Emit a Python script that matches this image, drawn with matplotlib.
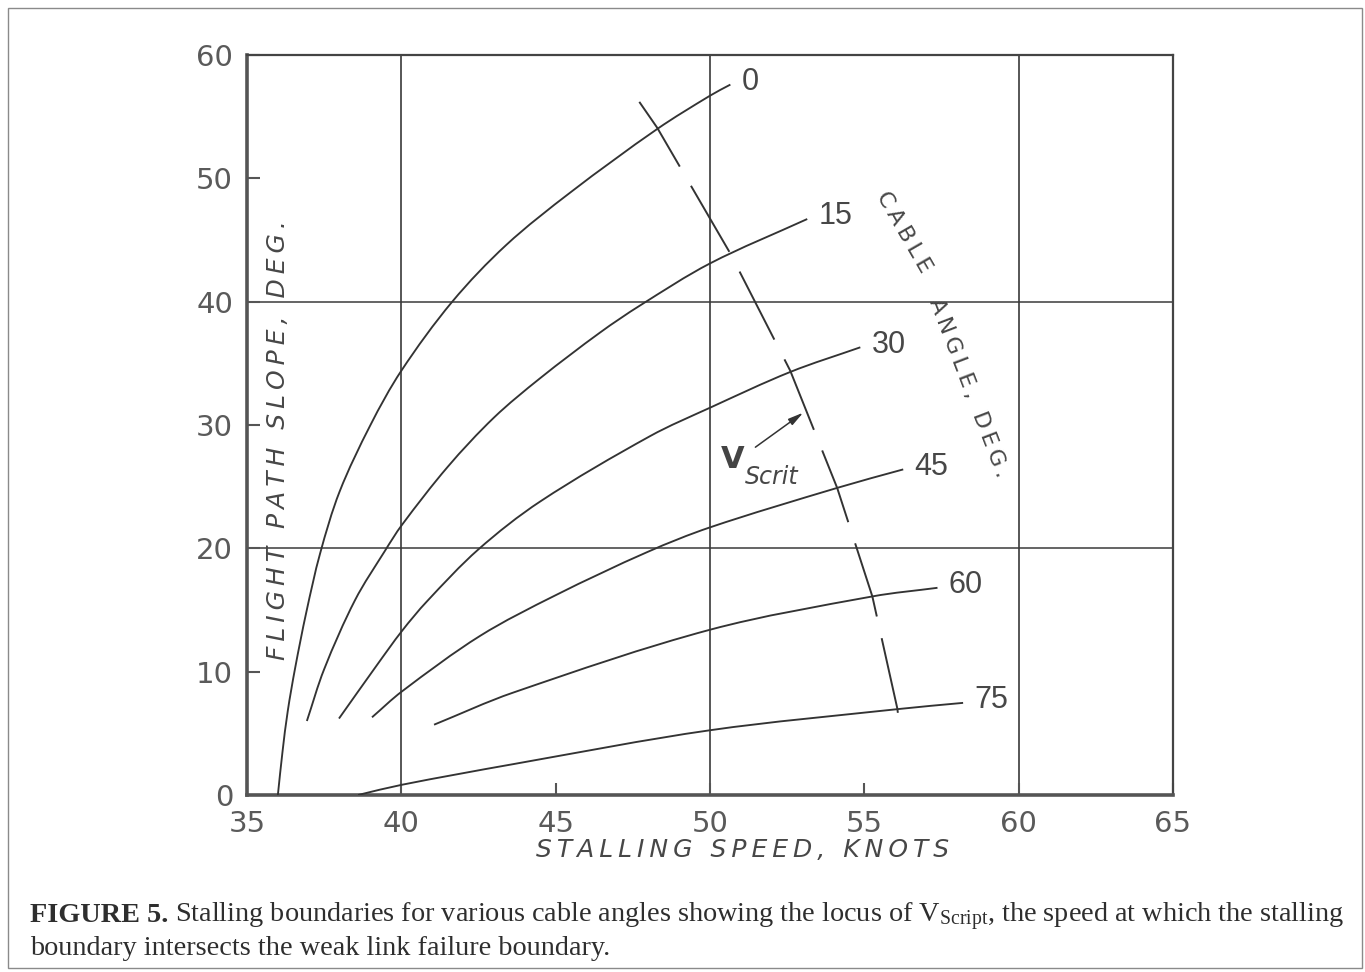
import matplotlib
matplotlib.use("Agg")
import numpy as np
import matplotlib.pyplot as plt
from matplotlib.patches import Rectangle, PathPatch
from matplotlib.path import Path

plt.rcParams['lines.scale_dashes'] = False
plt.rcParams['font.family'] = ['DejaVu Sans']
plt.rcParams['mathtext.fontset'] = 'custom'
plt.rcParams['mathtext.rm'] = 'Liberation Serif'
plt.rcParams['mathtext.bf'] = 'Liberation Serif:bold'
plt.rcParams['mathtext.it'] = 'Liberation Serif:italic'

# ---------------- data ----------------
cable_angles = [0, 15, 30, 45, 60, 75]

speed_0 = [36.0, 36.15, 36.32, 36.56, 36.92, 37.37, 38.0, 39.0, 40.0, 41.65, 43.4, 45.5, 48.29, 50.0, 50.66]
slope_0 = [0.0, 3.5, 6.8, 10.3, 14.8, 19.6, 24.6, 30.0, 34.4, 40.0, 44.6, 48.9, 54.0, 56.7, 57.6]

speed_15 = [36.94, 37.5, 38.5, 39.47, 40.02, 41.5, 43.0, 44.5, 46.44, 47.74, 50.0, 53.15]
slope_15 = [6.0, 10.2, 15.8, 19.8, 21.9, 26.6, 30.6, 33.8, 37.5, 39.7, 43.1, 46.7]

speed_30 = [37.98, 39.2, 40.02, 40.83, 42.49, 44.5, 48.06, 50.0, 52.6, 54.87]
slope_30 = [6.2, 10.5, 13.3, 15.7, 19.9, 23.8, 29.1, 31.4, 34.3, 36.3]

speed_45 = [39.05, 40.02, 42.55, 45.0, 47.97, 50.0, 54.12, 56.26]
slope_45 = [6.3, 8.4, 12.9, 16.2, 19.7, 21.7, 24.9, 26.4]

speed_60 = [41.06, 43.62, 50.0, 55.26, 57.37]
slope_60 = [5.7, 8.3, 13.4, 16.1, 16.8]

speed_75 = [38.6, 40.02, 43.62, 50.0, 56.07, 58.2]
slope_75 = [0.0, 0.83, 2.5, 5.25, 6.96, 7.47]

# locus of V_Scrit (weak-link failure boundary intersections)
locus_speed = [47.71, 48.29, 50.66, 52.6, 54.12, 55.26, 56.07, 56.13]
locus_slope = [56.2, 54.1, 43.9, 34.4, 24.9, 16.1, 7.0, 5.75]

x_ticks = [35, 40, 45, 50, 55, 60, 65]
x_tick_labels = ["35", "40", "45", "50", "55", "60", "65"]
y_ticks = [0, 10, 20, 30, 40, 50, 60]
y_tick_labels = ["0", "10", "20", "30", "40", "50", "60"]
x_grid = [40, 50, 60]
y_grid = [20, 40]

curves = [(speed_0, slope_0), (speed_15, slope_15), (speed_30, slope_30),
          (speed_45, slope_45), (speed_60, slope_60), (speed_75, slope_75)]

# ---------------- style ----------------
W, H = 1365, 972
ink = '#333333'
txt = '#474747'


def spaced(s):
    return '\u2009'.join(list(s))


def smooth_path(xs, ys, sx=30.85, sy=12.33):
    """Cubic Hermite (chord-parametrised) Bezier path through the points."""
    P = np.column_stack([xs, ys]).astype(float)
    d = np.hypot(np.diff(P[:, 0]) * sx, np.diff(P[:, 1]) * sy)
    t = np.concatenate([[0], np.cumsum(d)])
    n = len(P)
    T = np.zeros_like(P)
    for i in range(n):
        if i == 0:
            T[i] = (P[1] - P[0]) / (t[1] - t[0])
        elif i == n - 1:
            T[i] = (P[-1] - P[-2]) / (t[-1] - t[-2])
        else:
            T[i] = (P[i + 1] - P[i - 1]) / (t[i + 1] - t[i - 1])
    verts = [P[0]]
    codes = [Path.MOVETO]
    for i in range(n - 1):
        h = t[i + 1] - t[i]
        verts += [P[i] + T[i] * h / 3, P[i + 1] - T[i + 1] * h / 3, P[i + 1]]
        codes += [Path.CURVE4] * 3
    return Path(np.array(verts), codes)


fig = plt.figure(figsize=(W / 100, H / 100), dpi=100)
fig.patch.set_facecolor('white')

ax = fig.add_axes([247 / W, 1 - 795 / H, (1173 - 247) / W, (795 - 55) / H])
ax.set_xlim(35, 65)
ax.set_ylim(0, 60)

for xv in x_grid:
    ax.axvline(xv, color='#3a3a3a', lw=1.2, zorder=1)
for yv in y_grid:
    ax.axhline(yv, color='#3a3a3a', lw=1.1, zorder=1)

for side in ['left', 'bottom']:
    ax.spines[side].set_linewidth(2.6)
    ax.spines[side].set_color('#555555')
for side in ['top', 'right']:
    ax.spines[side].set_linewidth(1.6)
    ax.spines[side].set_color('#444444')

ax.set_xticks(x_ticks)
ax.set_xticklabels(x_tick_labels)
ax.set_yticks(y_ticks)
ax.set_yticklabels(y_tick_labels)
ax.tick_params(direction='in', length=9, width=1.5, color='#555555',
               labelcolor='#5a5a5a', labelsize=21)
ax.tick_params(axis='x', pad=11)
ax.tick_params(axis='y', pad=10)

for (xs, ys), ang in zip(curves, cable_angles):
    ax.add_patch(PathPatch(smooth_path(xs, ys), fill=False, ec=ink, lw=1.35,
                           transform=ax.transData, zorder=3, capstyle='butt'))
    ax.annotate(str(ang), xy=(xs[-1], ys[-1]), xytext=(8, 2),
                textcoords='offset points', ha='left', va='center',
                fontsize=22, family='Liberation Sans', color=txt)

ax.plot(locus_speed, locus_slope, color=ink, lw=1.4, dashes=(55, 16), zorder=3)

# arrow pointing to the locus
ax.annotate('', xy=(53.02, 31.0), xytext=(51.47, 28.2),
            arrowprops=dict(arrowstyle='-|>,head_length=0.9,head_width=0.22',
                            color=ink, lw=1.1, shrinkA=0, shrinkB=0))
ax.text(50.72, 27.2, 'V', fontsize=22, fontweight='bold', color='#444444',
        ha='center', va='center')
ax.text(51.14, 25.8, 'Scrit', fontsize=17, style='italic', color=txt,
        ha='left', va='center')

# rotated "CABLE ANGLE, DEG."
ax.text(56.27, 45.6, spaced('CABLE'), rotation=-60, fontsize=16, color=txt,
        ha='center', va='center', rotation_mode='anchor')
ax.text(58.37, 33.0, spaced('ANGLE, DEG.'), rotation=-69, fontsize=16, color=txt,
        ha='center', va='center', rotation_mode='anchor')

# axis titles
ax.text(0.033, 0.48, spaced('FLIGHT PATH SLOPE, DEG.'), rotation=90,
        transform=ax.transAxes, ha='center', va='center', style='italic',
        fontsize=18, color=txt)
ax.text((743 - 247) / 926, (795 - 850) / 740, spaced('STALLING SPEED, KNOTS'),
        transform=ax.transAxes, ha='center', va='center', style='italic',
        fontsize=18, color=txt)

# outer frame
fig.add_artist(Rectangle((8 / W, 1 - 968 / H), (1362 - 8) / W, (968 - 8) / H,
                         transform=fig.transFigure, fill=False, ec='#8a8a8a', lw=1.0))

# caption
cap_bold = "FIGURE 5."
cap_rest1 = (r"Stalling boundaries for various cable angles showing the "
             r"locus of V$_{\mathrm{Script}}$, the speed at which the stalling")
cap_line2 = "boundary intersects the weak link failure boundary."
x0, target = 30, 1315
fs = 17
tb = fig.text(x0 / W, 1 - 922 / H, cap_bold, fontsize=fs, family='Liberation Serif',
              weight='bold', color='#2e2e2e', va='baseline', ha='left')
tr = fig.text(0, 1 - 922 / H, cap_rest1, fontsize=fs, family='Liberation Serif',
              color='#2e2e2e', va='baseline', ha='left')
t2 = fig.text(x0 / W, 1 - 955 / H, cap_line2, fontsize=fs, family='Liberation Serif',
              color='#2e2e2e', va='baseline', ha='left')
for _ in range(3):
    fig.canvas.draw()
    wb = tb.get_window_extent().width
    gap = fs * 100 / 72 * 0.25
    tr.set_x((x0 + wb + gap) / W)
    fig.canvas.draw()
    total = tr.get_window_extent().x1 - x0
    fs = fs * target / total
    for t in (tb, tr, t2):
        t.set_fontsize(fs)
fig.canvas.draw()
wb = tb.get_window_extent().width
tr.set_x((x0 + wb + fs * 100 / 72 * 0.25) / W)

fig.savefig('out.png', dpi=100, facecolor='white')
